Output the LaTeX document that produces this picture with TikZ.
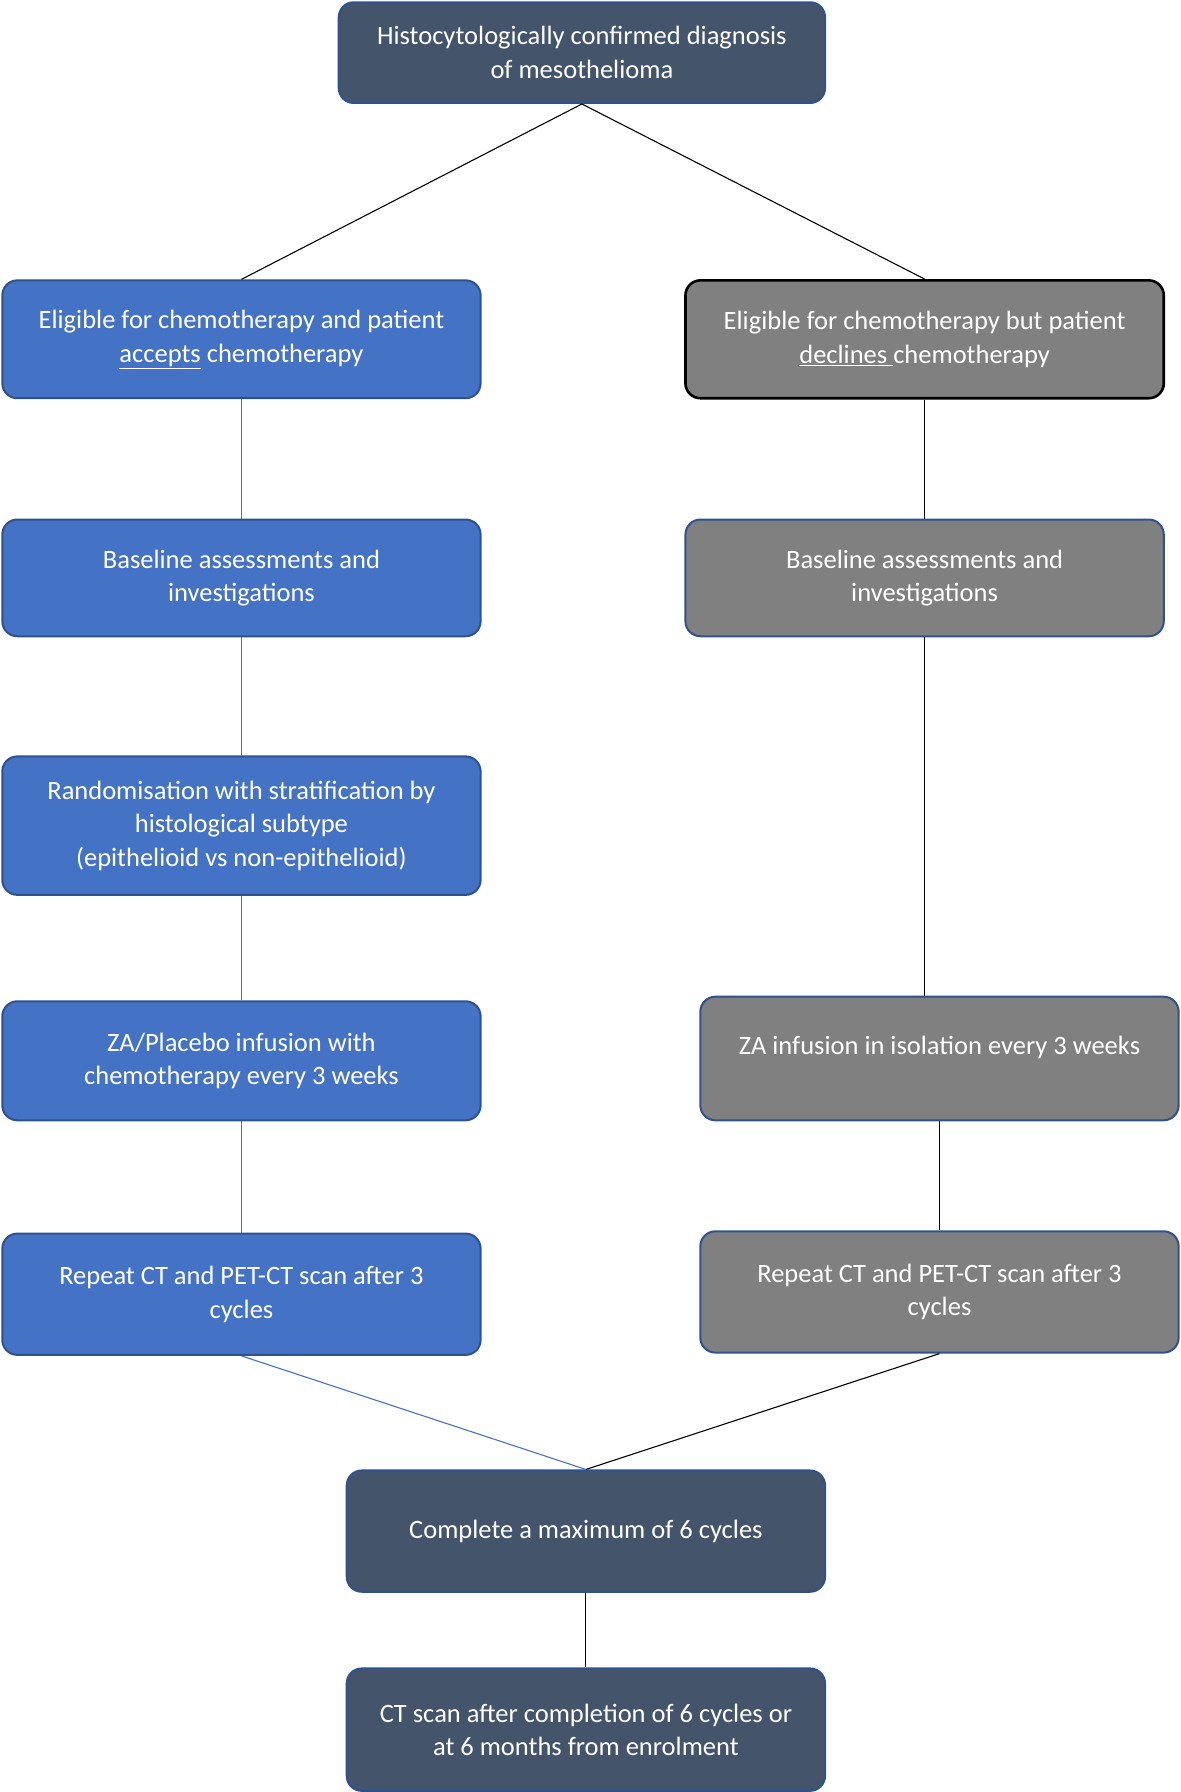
\documentclass[tikz,border=0pt]{standalone}
\usepackage{fontspec}
\setmainfont{Carlito}
\begin{document}
\begin{tikzpicture}[x=1.1444pt,y=-1.1444pt,
  box/.style={rounded corners=15pt, align=center, text=white, inner sep=0pt,
    minimum width=418*1.1444pt, font=\fontsize{26.5}{33.5}\selectfont, line width=2pt},
  bluebox/.style={box, fill=obBlue, draw=obBorder},
  greybox/.style={box, fill=obGrey, draw=obBorder},
  darkbox/.style={box, fill=obDark, draw=obBorder},
  conn/.style={line width=1.1pt, draw=black},
  bconn/.style={line width=1.1pt, draw=obBlue}]
\definecolor{obBlue}{HTML}{4472C4}
\definecolor{obBorder}{HTML}{2F528F}
\definecolor{obGrey}{HTML}{808080}
\definecolor{obDark}{HTML}{44546A}
\useasboundingbox (0,0) rectangle (1032,1566);
\fill[white] (0,0) rectangle (1032,1566);

\node[darkbox, minimum width=425*1.1444pt, minimum height=88*1.1444pt] (top) at (508.5,46)
  {Histocytologically confirmed diagnosis\\of mesothelioma};

\node[bluebox, minimum height=103*1.1444pt] (L1) at (211,296.5)
  {Eligible for chemotherapy and patient\\\underline{accepts} chemotherapy};
\node[bluebox, minimum height=102*1.1444pt] (L2) at (211,505)
  {Baseline assessments and\\investigations};
\node[bluebox, minimum height=121*1.1444pt] (L3) at (211,721.5)
  {Randomisation with stratification by\\histological subtype\\(epithelioid vs non-epithelioid)};
\node[bluebox, minimum height=104*1.1444pt] (L4) at (211,927)
  {ZA/Placebo infusion with\\chemotherapy every 3 weeks};
\node[bluebox, minimum height=106*1.1444pt] (L5) at (211,1131)
  {Repeat CT and PET-CT scan after 3\\cycles};

\node[greybox, draw=black, line width=2.6pt, minimum height=103*1.1444pt] (R1) at (808,296.5)
  {Eligible for chemotherapy but patient\\\underline{declines\ }chemotherapy};
\node[greybox, minimum height=102*1.1444pt] (R2) at (808,505)
  {Baseline assessments and\\investigations};
\node[greybox, minimum height=108*1.1444pt] (R3) at (821,925)
  {ZA infusion in isolation every 3 weeks\\[-17pt]\strut};
\node[greybox, minimum height=106*1.1444pt] (R4) at (821,1129)
  {Repeat CT and PET-CT scan after 3\\cycles};

\node[darkbox, minimum height=106*1.1444pt] (B1) at (512,1338)
  {Complete a maximum of 6 cycles};
\node[darkbox, minimum height=107*1.1444pt] (B2) at (512,1511.5)
  {CT scan after completion of 6 cycles or\\at 6 months from enrolment};

\draw[conn] (top.south) -- (L1.north);
\draw[conn] (top.south) -- (R1.north);
\draw[bconn] (L1.south) -- (L2.north);
\draw[bconn] (L2.south) -- (L3.north);
\draw[bconn] (L3.south) -- (L4.north);
\draw[bconn] (L4.south) -- (L5.north);
\draw[conn] (R1.south) -- (R2.north);
\draw[conn] (R2.south) -- (R2.south |- R3.north);
\draw[conn] (R3.south) -- (R4.north);
\draw[bconn] (L5.south) -- (B1.north);
\draw[conn] (R4.south) -- (B1.north);
\draw[conn] (B1.south) -- (B2.north);
\end{tikzpicture}
\end{document}
